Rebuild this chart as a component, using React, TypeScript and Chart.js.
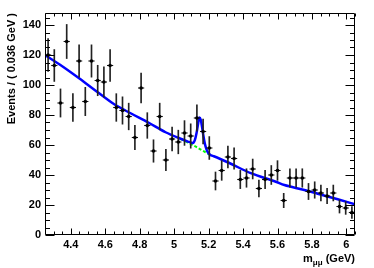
import React, { useEffect, useRef } from "react";
import { Chart, registerables } from "chart.js";

Chart.register(...registerables);

// Bin centres (GeV) of the m_mumu histogram, bin width 0.036 GeV
const binCenters = [
  4.268, 4.304, 4.34, 4.376, 4.412, 4.448, 4.484, 4.52, 4.556, 4.592,
  4.628, 4.664, 4.7, 4.736, 4.772, 4.808, 4.844, 4.88, 4.916, 4.952,
  4.988, 5.024, 5.06, 5.096, 5.132, 5.168, 5.204, 5.24, 5.276, 5.312,
  5.348, 5.384, 5.42, 5.456, 5.492, 5.528, 5.564, 5.6, 5.636, 5.672,
  5.708, 5.744, 5.78, 5.816, 5.852, 5.888, 5.924, 5.96, 5.996, 6.032,
];

// Events per bin
const events = [
  120, 113, 88, 129, 85, 116, 89, 116, 103, 102,
  113, 85, 83, 79, 65, 98, 73, 56, 79, 50,
  64, 62, 68, 66, 78, 69, 58, 36, 43, 52,
  51, 37, 38, 44, 31, 37, 40, 43, 23, 38,
  38, 38, 29, 30, 28, 26, 28, 19, 18, 15,
];

// Total fit (blue)
const fitX = [
  4.25, 4.35, 4.45, 4.55, 4.65, 4.75, 4.85, 4.95, 5.03, 5.08,
  5.1, 5.11, 5.12, 5.13, 5.138, 5.146, 5.154, 5.162, 5.17, 5.178,
  5.188, 5.2, 5.215, 5.23, 5.32, 5.445, 5.59, 5.64, 5.75, 5.834,
  5.95, 6.05,
];
const fitY = [
  120, 112.5, 104.3, 95.7, 87.3, 81, 75, 68.5, 64.5, 62.3,
  61.5, 61.4, 63.3, 68, 73.5, 78.3, 77, 72, 66, 61,
  57, 54.3, 53.1, 52.5, 48, 41.2, 35.5, 33.3, 30.2, 27.5,
  23.8, 20.5,
];

// Background component (green dashed), visible only under the peak
const bgX = [5.04, 5.08, 5.12, 5.16, 5.2, 5.215];
const bgY = [64, 61.6, 59.2, 56.6, 54.0, 53.1];

// Axis tick labels
const xTickValues = [4.4, 4.6, 4.8, 5, 5.2, 5.4, 5.6, 5.8, 6];
const yTickValues = [0, 20, 40, 60, 80, 100, 120, 140];

const X_MIN = 4.25;
const X_MAX = 6.05;
const Y_MIN = 0;
const Y_MAX = 148;

const FONT = "'Liberation Sans', Arial, Helvetica, sans-serif";

const rootFrame = {
  id: "rootFrame",
  afterDatasetsDraw(chart: any) {
    const { ctx, chartArea: a, scales } = chart;
    const xs = scales.x;
    const ys = scales.y;
    const L = Math.round(a.left) + 0.5;
    const R = Math.round(a.right) - 0.5;
    const T = Math.round(a.top) + 0.5;
    const B = Math.round(a.bottom) - 0.5;
    ctx.save();
    ctx.strokeStyle = "#000";
    ctx.lineWidth = 1;
    ctx.beginPath();
    ctx.rect(L, T, R - L, B - T);
    for (let k = Math.ceil(X_MIN / 0.05 - 1e-9); k * 0.05 <= X_MAX + 1e-9; k++) {
      const v = k * 0.05;
      const major = Math.abs(v * 5 - Math.round(v * 5)) < 1e-6;
      const len = major ? 6 : 3;
      const px = Math.round(xs.getPixelForValue(v)) + 0.5;
      ctx.moveTo(px, B);
      ctx.lineTo(px, B - len);
      ctx.moveTo(px, T);
      ctx.lineTo(px, T + len);
    }
    for (let k = 0; k * 5 <= Y_MAX; k++) {
      const v = k * 5;
      const major = v % 20 === 0;
      const len = major ? 9 : 4.5;
      const py = Math.round(ys.getPixelForValue(v)) + 0.5;
      ctx.moveTo(L, py);
      ctx.lineTo(L + len, py);
      ctx.moveTo(R, py);
      ctx.lineTo(R - len, py);
    }
    ctx.stroke();
    ctx.restore();
  },
  afterDraw(chart: any) {
    const { ctx, chartArea: a } = chart;
    ctx.save();
    ctx.fillStyle = "#000";
    ctx.font = `bold 11px ${FONT}`;
    ctx.translate(15, a.top);
    ctx.rotate(-Math.PI / 2);
    ctx.textAlign = "right";
    ctx.textBaseline = "alphabetic";
    ctx.fillText("Events / ( 0.036 GeV )", 0, 0);
    ctx.restore();

    ctx.save();
    ctx.fillStyle = "#000";
    ctx.textBaseline = "alphabetic";
    ctx.textAlign = "left";
    const big = `bold 11px ${FONT}`;
    const small = `bold 8px ${FONT}`;
    ctx.font = big;
    const wM = ctx.measureText("m").width;
    const wTail = ctx.measureText(" (GeV)").width;
    ctx.font = small;
    const wSub = ctx.measureText("μμ").width;
    const base = 262;
    const x0 = a.right - (wM + wSub + wTail);
    ctx.font = big;
    ctx.fillText("m", x0, base);
    ctx.font = small;
    ctx.fillText("μμ", x0 + wM, base + 2.5);
    ctx.font = big;
    ctx.fillText(" (GeV)", x0 + wM + wSub, base);
    ctx.restore();
  },
};

export default function App() {
  const ref = useRef<HTMLCanvasElement | null>(null);

  useEffect(() => {
    if (!ref.current) return;
    const pts = binCenters.map((x, i) => ({ x, y: events[i] }));
    const errs = binCenters.map((x, i) => {
      const e = Math.sqrt(events[i]);
      return { x, y: [events[i] - e, events[i] + e] };
    });
    const fit = fitX.map((x, i) => ({ x, y: fitY[i] }));
    const bg = bgX.map((x, i) => ({ x, y: bgY[i] }));

    const chart = new Chart(ref.current, {
      type: "scatter",
      data: {
        datasets: [
          {
            type: "scatter",
            data: pts,
            pointStyle: "circle",
            pointRadius: 1.8,
            pointBackgroundColor: "#000",
            pointBorderWidth: 0,
          } as any,
          {
            type: "scatter",
            data: pts,
            pointStyle: "line",
            pointRadius: 3.1,
            pointBorderColor: "#111",
            pointBorderWidth: 1.1,
          } as any,
          {
            type: "bar",
            data: errs,
            backgroundColor: "#222",
            borderWidth: 0,
            barThickness: 1,
          } as any,
          {
            type: "line",
            data: fit,
            borderColor: "#0000ff",
            borderWidth: 2.5,
            pointRadius: 0,
            fill: false,
            showLine: true,
            cubicInterpolationMode: "monotone",
          } as any,
          {
            type: "line",
            data: bg,
            borderColor: "#00ff00",
            borderWidth: 2,
            borderDash: [3, 2],
            pointRadius: 0,
            fill: false,
            showLine: true,
            cubicInterpolationMode: "monotone",
          } as any,
        ],
      },
      options: {
        responsive: false,
        animation: false,
        devicePixelRatio: 1,
        events: [],
        layout: { padding: { top: 13, right: 19, left: 0, bottom: 0 } },
        plugins: {
          legend: { display: false },
          tooltip: { enabled: false },
        },
        scales: {
          x: {
            type: "linear",
            min: X_MIN,
            max: X_MAX,
            offset: false,
            grid: { display: false, drawTicks: false },
            border: { display: false },
            afterBuildTicks: (s: any) => {
              s.ticks = xTickValues.map((v) => ({ value: v }));
            },
            afterFit: (s: any) => {
              s.height = 33;
            },
            ticks: {
              autoSkip: false,
              maxRotation: 0,
              padding: 3,
              color: "#000",
              font: { family: FONT, size: 11, weight: "bold" },
              callback: (v: any) => String(Number(Number(v).toFixed(1))),
            },
          },
          y: {
            type: "linear",
            min: Y_MIN,
            max: Y_MAX,
            grid: { display: false, drawTicks: false },
            border: { display: false },
            afterBuildTicks: (s: any) => {
              s.ticks = yTickValues.map((v) => ({ value: v }));
            },
            afterFit: (s: any) => {
              s.width = 45;
            },
            ticks: {
              padding: 4,
              color: "#000",
              font: { family: FONT, size: 11, weight: "bold" },
              callback: (v: any) => String(v),
            },
          },
        },
      } as any,
      plugins: [rootFrame],
    });
    return () => chart.destroy();
  }, []);

  return (
    <div style={{ position: "absolute", left: 0, top: 0, width: 374, height: 268, background: "#fff" }}>
      <canvas ref={ref} width={374} height={268} style={{ display: "block" }} />
    </div>
  );
}
